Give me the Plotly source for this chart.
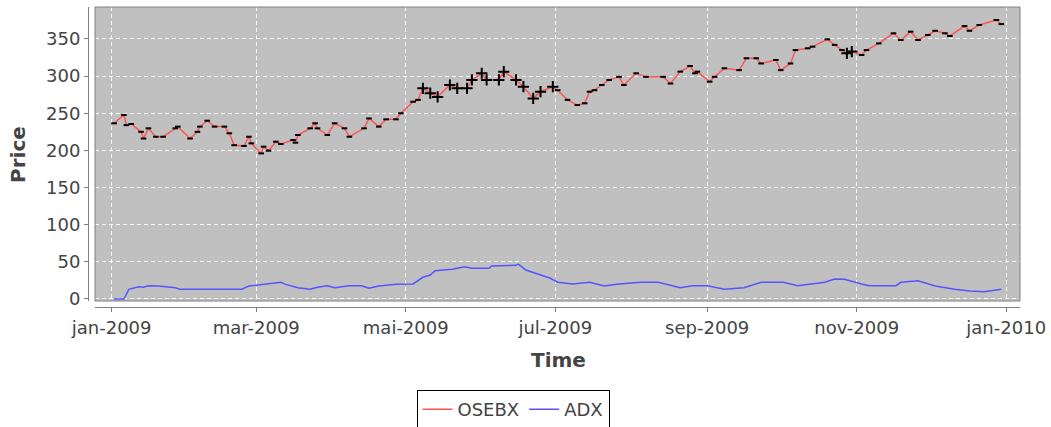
import plotly.graph_objects as go

# ---------------- data ----------------
osebx_dates = [
    "2009-01-02", "2009-01-06", "2009-01-07", "2009-01-09", "2009-01-13", "2009-01-14",
    "2009-01-16", "2009-01-19", "2009-01-22", "2009-01-27", "2009-01-28", "2009-02-02",
    "2009-02-05", "2009-02-06", "2009-02-09", "2009-02-12", "2009-02-16", "2009-02-18",
    "2009-02-20", "2009-02-24", "2009-02-26", "2009-02-27", "2009-03-03", "2009-03-04",
    "2009-03-06", "2009-03-09", "2009-03-11", "2009-03-16", "2009-03-17", "2009-03-18",
    "2009-03-23", "2009-03-25", "2009-03-26", "2009-03-30", "2009-04-02", "2009-04-06",
    "2009-04-08", "2009-04-14", "2009-04-16", "2009-04-20", "2009-04-23", "2009-04-27",
    "2009-04-29", "2009-05-04", "2009-05-06", "2009-05-08", "2009-05-11", "2009-05-14",
    "2009-05-19", "2009-05-22", "2009-05-26", "2009-05-28", "2009-06-01", "2009-06-03",
    "2009-06-08", "2009-06-10", "2009-06-15", "2009-06-18", "2009-06-22", "2009-06-25",
    "2009-06-30", "2009-07-02", "2009-07-06", "2009-07-10", "2009-07-13", "2009-07-15",
    "2009-07-17", "2009-07-20", "2009-07-23", "2009-07-27", "2009-07-29", "2009-08-03",
    "2009-08-07", "2009-08-14", "2009-08-17", "2009-08-21", "2009-08-25", "2009-08-27",
    "2009-08-28", "2009-09-02", "2009-09-04", "2009-09-08", "2009-09-14", "2009-09-17",
    "2009-09-21", "2009-09-23", "2009-09-29", "2009-10-01", "2009-10-05", "2009-10-07",
    "2009-10-12", "2009-10-14", "2009-10-20", "2009-10-23", "2009-10-26", "2009-10-28",
    "2009-10-30", "2009-11-03", "2009-11-05", "2009-11-10", "2009-11-16", "2009-11-19",
    "2009-11-23", "2009-11-26", "2009-11-30", "2009-12-03", "2009-12-07", "2009-12-09",
    "2009-12-15", "2009-12-17", "2009-12-21", "2009-12-28", "2009-12-30",
]
osebx_values = [
    236.5, 247.7, 234.0, 235.5, 225.0, 216.0,
    229.7, 218.4, 218.4, 229.7, 232.0, 216.0,
    225.0, 232.0, 240.0, 232.0, 232.0, 223.0,
    207.0, 206.0, 218.4, 209.5, 196.0, 205.0,
    199.6, 211.7, 208.6, 214.0, 210.4, 220.7,
    229.7, 236.5, 229.7, 220.7, 236.5, 229.7,
    218.4, 229.7, 243.0, 232.0, 241.8, 241.8,
    250.0, 265.5, 268.0, 283.6, 277.0, 272.0,
    288.0, 283.6, 283.6, 294.8, 303.8, 294.8,
    294.8, 306.0, 294.8, 285.7, 270.0, 279.0,
    285.7, 281.0, 268.0, 261.0, 263.4, 279.0,
    281.0, 288.0, 294.8, 299.0, 288.0, 303.8,
    299.0, 299.0, 290.0, 306.0, 313.6, 303.8,
    306.0, 292.5, 299.0, 310.5, 308.0, 324.0,
    324.0, 317.0, 321.7, 308.0, 317.0, 335.0,
    337.4, 339.6, 349.5, 342.0, 335.0, 330.7,
    333.0, 328.4, 335.0, 344.0, 357.6, 348.6,
    359.8, 348.6, 355.3, 361.0, 357.6, 354.0,
    367.4, 361.0, 368.8, 375.5, 370.0,
]

adx_dates = [
    "2009-01-02", "2009-01-06", "2009-01-08", "2009-01-12", "2009-01-14", "2009-01-16",
    "2009-01-20", "2009-01-27", "2009-01-29", "2009-02-23", "2009-02-26", "2009-03-03",
    "2009-03-09", "2009-03-11", "2009-03-13", "2009-03-18", "2009-03-23", "2009-03-26",
    "2009-03-30", "2009-04-02", "2009-04-08", "2009-04-13", "2009-04-16", "2009-04-20",
    "2009-04-27", "2009-05-04", "2009-05-08", "2009-05-11", "2009-05-13", "2009-05-20",
    "2009-05-25", "2009-05-28", "2009-06-04", "2009-06-05", "2009-06-15", "2009-06-16",
    "2009-06-19", "2009-06-29", "2009-07-02", "2009-07-08", "2009-07-15", "2009-07-21",
    "2009-07-27", "2009-08-05", "2009-08-12", "2009-08-21", "2009-08-26", "2009-09-01",
    "2009-09-08", "2009-09-16", "2009-09-23", "2009-10-02", "2009-10-08", "2009-10-19",
    "2009-10-23", "2009-10-27", "2009-11-03", "2009-11-06", "2009-11-17", "2009-11-19",
    "2009-11-26", "2009-12-03", "2009-12-11", "2009-12-17", "2009-12-23", "2009-12-28",
    "2009-12-30",
]
adx_values = [
    0.0, 0.0, 13.0, 16.5, 15.7, 17.9,
    17.5, 15.2, 13.0, 13.0, 17.5, 19.7,
    22.4, 22.4, 19.7, 15.2, 13.0, 15.7,
    17.9, 15.2, 17.9, 17.9, 14.4, 17.5,
    19.7, 20.2, 29.2, 32.3, 38.0, 40.0,
    43.5, 41.3, 41.3, 44.4, 45.3, 47.0,
    39.0, 27.9, 22.5, 20.2, 22.5, 17.5,
    20.2, 22.5, 22.5, 15.2, 17.9, 17.9,
    13.0, 15.2, 22.5, 22.5, 17.9, 22.5,
    26.9, 26.5, 20.2, 17.9, 17.9, 22.5,
    24.6, 17.5, 13.0, 10.8, 9.8, 12.1,
    13.0,
]

# periods where the black signal marks are drawn as large crosses
cross_periods = [("2009-05-07", "2009-06-30"), ("2009-10-27", "2009-11-01")]

tick_dates = ["2009-01-01", "2009-03-01", "2009-05-01", "2009-07-01",
              "2009-09-01", "2009-11-01", "2010-01-01"]
tick_labels = ["jan-2009", "mar-2009", "mai-2009", "jul-2009",
               "sep-2009", "nov-2009", "jan-2010"]
y_ticks = [0, 50, 100, 150, 200, 250, 300, 350]

# ---------------- derived ----------------
def in_cross(d):
    return any(a <= d <= b for a, b in cross_periods)

dash_x = [d for d in osebx_dates if not in_cross(d)]
dash_y = [v for d, v in zip(osebx_dates, osebx_values) if not in_cross(d)]
cross_x = [d for d in osebx_dates if in_cross(d)]
cross_y = [v for d, v in zip(osebx_dates, osebx_values) if in_cross(d)]

FONT = "DejaVu Sans"
GRAY = "#808080"
TXT = "#444444"
GRID = "rgba(255,255,255,0.85)"

fig = go.Figure()
fig.add_trace(go.Scatter(x=osebx_dates, y=osebx_values, mode="lines", name="OSEBX",
                         line=dict(color="#FF5555", width=1.5)))
fig.add_trace(go.Scatter(x=adx_dates, y=adx_values, mode="lines", name="ADX",
                         line=dict(color="#5555FF", width=1.5)))
fig.add_trace(go.Scatter(x=dash_x, y=dash_y, mode="markers", showlegend=False,
                         marker=dict(symbol="line-ew", size=4, color="black",
                                     line=dict(color="black", width=2))))
fig.add_trace(go.Scatter(x=cross_x, y=cross_y, mode="markers", showlegend=False,
                         marker=dict(symbol="cross-thin", size=8, color="black",
                                     line=dict(color="black", width=2))))

W_PAPER = 1020 - 88
H_PAPER = 307 - 7

fig.update_layout(
    width=1051, height=427,
    margin=dict(l=88, r=31, t=7, b=120, autoexpand=False),
    paper_bgcolor="white", plot_bgcolor="#C0C0C0",
    font=dict(family=FONT, size=18, color=TXT),
    showlegend=True,
    legend=dict(orientation="h", x=(513 - 88) / W_PAPER, xanchor="center",
                y=(307 - 390) / H_PAPER, yanchor="top",
                bgcolor="white", bordercolor="black", borderwidth=1,
                font=dict(family=FONT, size=18, color=TXT),
                itemwidth=30, tracegroupgap=0),
    xaxis=dict(domain=[7 / W_PAPER, 1], anchor="free", position=0,
               type="date", range=["2008-12-25 05:00", "2010-01-06 15:00"],
               tickmode="array", tickvals=tick_dates, ticktext=tick_labels,
               showgrid=True, gridcolor=GRID, griddash="4px,3px", gridwidth=1,
               showline=True, linecolor=GRAY, linewidth=1,
               ticks="outside", ticklen=4, tickcolor=GRAY,
               tickfont=dict(family=FONT, size=18, color=TXT),
               zeroline=False),
    yaxis=dict(domain=[6 / H_PAPER, 1], anchor="free", position=0,
               range=[-2.7, 393], tickmode="array", tickvals=y_ticks,
               showgrid=True, gridcolor=GRID, griddash="4px,3px", gridwidth=1,
               showline=True, linecolor=GRAY, linewidth=1,
               ticks="outside", ticklen=4, tickcolor=GRAY,
               tickfont=dict(family=FONT, size=18, color=TXT),
               zeroline=False),
    shapes=[dict(type="rect", xref="x domain", yref="y domain", x0=0, x1=1, y0=0, y1=1,
                 line=dict(color=GRAY, width=1), fillcolor="rgba(0,0,0,0)", layer="above")],
    annotations=[
        dict(text="<b>Time</b>", xref="paper", yref="paper",
             x=(558 - 88) / W_PAPER, y=(307 - 360) / H_PAPER,
             xanchor="center", yanchor="middle", showarrow=False,
             font=dict(family=FONT, size=20, color=TXT)),
        dict(text="<b>Price</b>", xref="paper", yref="paper",
             x=(18 - 88) / W_PAPER, y=(307 - 155) / H_PAPER, textangle=-90,
             xanchor="center", yanchor="middle", showarrow=False,
             font=dict(family=FONT, size=20, color=TXT)),
    ],
)

fig.write_html("out.html", config={"displayModeBar": False},
               post_script="document.body.style.margin='0';")
